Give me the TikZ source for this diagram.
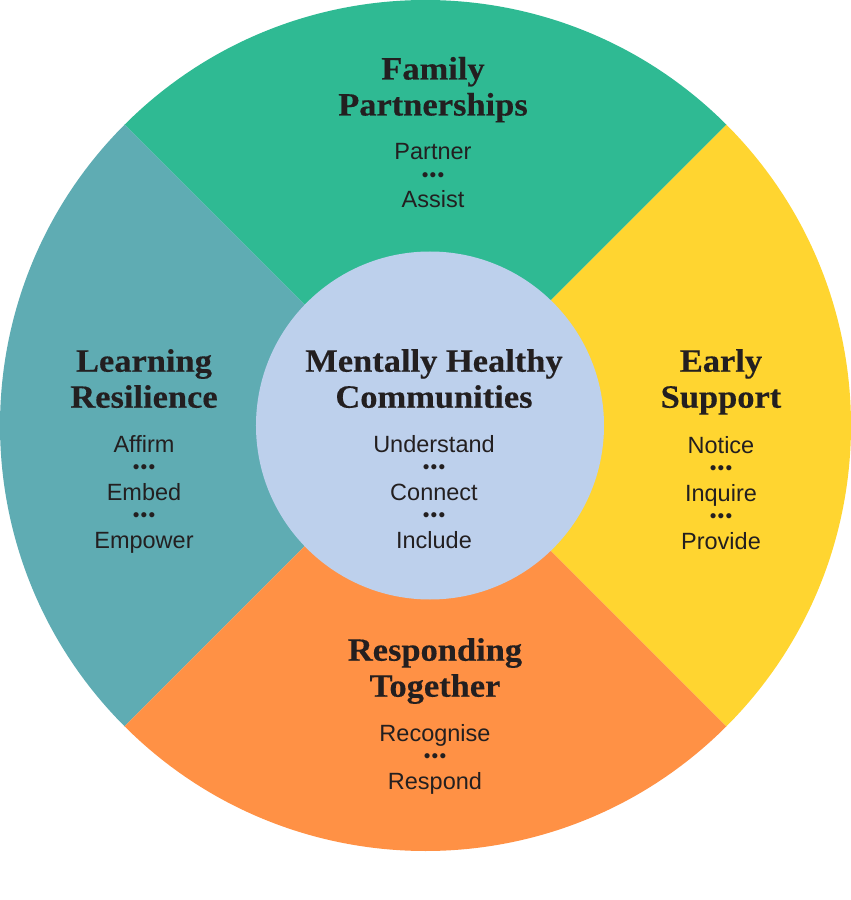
\documentclass[tikz,border=0pt]{standalone}
\usepackage{fontspec}
\setmainfont{Liberation Sans}
\newfontfamily\headfont[BoldFeatures={FakeStretch=1.06,FakeBold=0.35}]{Liberation Serif}
\usepackage{xcolor}
\usetikzlibrary{positioning}
\definecolor{inkdark}{HTML}{231F20}
\definecolor{familygreen}{HTML}{2FBA93}
\definecolor{resilienceteal}{HTML}{5FACB3}
\definecolor{earlyyellow}{HTML}{FFD530}
\definecolor{respondorange}{HTML}{FF9145}
\definecolor{centreblue}{HTML}{BDD0EC}
\tikzstyle{heading} = [inner sep=0pt, align=center, text=inkdark, font=\headfont\bfseries\fontsize{32.5}{36}\selectfont]
\tikzstyle{actions} = [inner sep=0pt, align=center, text=inkdark, font=\fontsize{23.5}{24}\selectfont]
\newcommand{\actdots}{\raisebox{2.7pt}{\fontsize{19}{24}\selectfont\textbullet\kern1.2pt\textbullet\kern1.2pt\textbullet}}

\begin{document}
\begin{tikzpicture}[x=1pt, y=1pt, node distance=16.4pt]

\useasboundingbox (-425.5,425.5) rectangle (425.5,-474.5);

% Quadrants
\fill [earlyyellow] (0,0) -- (-45:425.5) arc (-45:45:425.5) -- cycle;
\fill [familygreen] (0,0) -- (45:425.5) arc (45:135:425.5) -- cycle;
\fill [resilienceteal] (0,0) -- (135:425.5) arc (135:225:425.5) -- cycle;
\fill [respondorange] (0,0) -- (225:425.5) arc (225:315:425.5) -- cycle;
\fill [centreblue] (4.5,0) circle (174);

% Top
\node (family) [heading] at (7.5,335.2) {\strut Family\\Partnerships\strut};
\node (family_act) [actions, below=of family] {\strut Partner\\\actdots\\Assist\strut};

% Left
\node (learning) [heading] at (-281.5,43) {\strut Learning\\Resilience\strut};
\node (learning_act) [actions, below=of learning] {\strut Affirm\\\actdots\\Embed\\\actdots\\Empower\strut};

% Centre
\node (centre) [heading] at (8.5,43) {\strut Mentally Healthy\\Communities\strut};
\node (centre_act) [actions, below=of centre] {\strut Understand\\\actdots\\Connect\\\actdots\\Include\strut};

% Right
\node (early) [heading] at (295.5,43) {\strut Early\\Support\strut};
\node (early_act) [actions, below=17.4pt of early] {\strut Notice\\\actdots\\Inquire\\\actdots\\Provide\strut};

% Bottom
\node (responding) [heading] at (9.5,-246) {\strut Responding\\Together\strut};
\node (responding_act) [actions, below=of responding] {\strut Recognise\\\actdots\\Respond\strut};

\end{tikzpicture}
\end{document}
